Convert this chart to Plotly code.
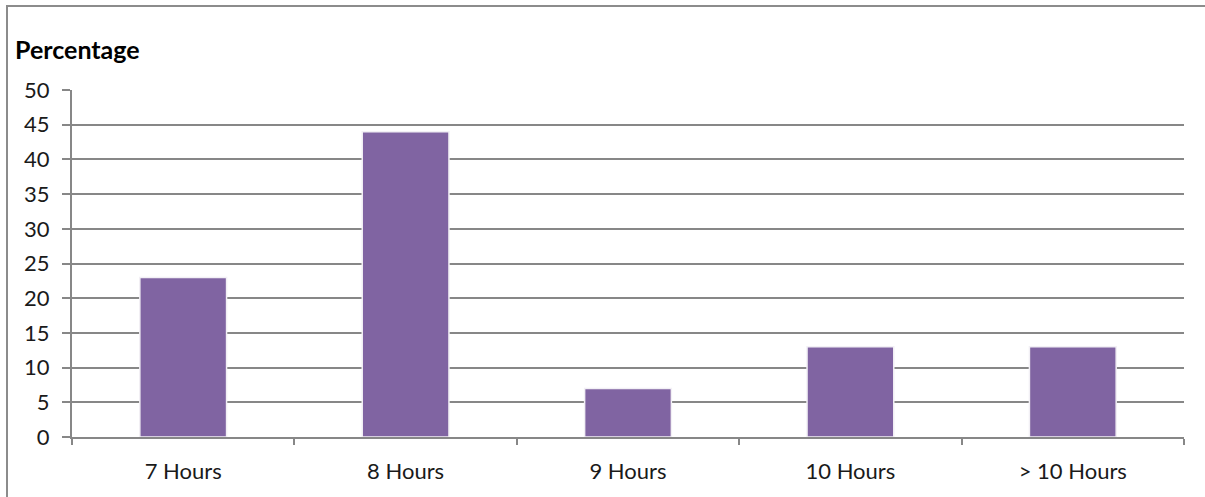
import plotly.graph_objects as go

categories = ["7 Hours", "8 Hours", "9 Hours", "10 Hours", "> 10 Hours"]
percentages = [23, 44, 7, 13, 13]
y_ticks = [0, 5, 10, 15, 20, 25, 30, 35, 40, 45, 50]

W, H = 1205, 497
L, R, T, B = 72, W - 1184, 90, H - 437
pw, ph = W - L - R, H - T - B

grid = "#878787"
font = "Lato"
txt = "#1a1a1a"

fig = go.Figure(go.Bar(
    x=categories, y=percentages,
    marker=dict(color="#8064A2", line=dict(color="#F2F0F5", width=1.5)),
    width=0.39,
))

fig.update_layout(
    width=W, height=H,
    margin=dict(l=L, r=R, t=T, b=B, pad=0),
    paper_bgcolor="white", plot_bgcolor="white",
    showlegend=False,
    font=dict(family=font, size=22, color=txt),
    title=dict(text="<b>Percentage</b>", xref="container", yref="container",
               x=15 / W, xanchor="left", y=1 - 50 / H, yanchor="middle",
               font=dict(family=font, size=25, color="#000000")),
    xaxis=dict(
        type="category", showgrid=False, showline=True, linecolor=grid, linewidth=2,
        ticks="outside", tickson="boundaries", ticklen=6, tickcolor=grid, tickwidth=1.5,
        ticklabelstandoff=14,
        tickfont=dict(family=font, size=22, color=txt),
        range=[-0.5, 4.5], fixedrange=True,
    ),
    yaxis=dict(
        range=[0, 50], tickvals=y_ticks, showgrid=True, gridcolor=grid, gridwidth=1.5,
        showline=True, linecolor=grid, linewidth=2, zeroline=False,
        ticks="outside", ticklen=8, tickcolor=grid, tickwidth=1.5,
        ticklabelstandoff=8,
        tickfont=dict(family=font, size=22, color=txt),
    ),
    shapes=[dict(
        type="rect", xref="paper", yref="paper", layer="below",
        x0=(7 - L) / pw, x1=(W + 10 - L) / pw,
        y0=-(B + 10) / ph, y1=(H - B - 6) / ph,
        line=dict(color="#8C8C8C", width=2), fillcolor="rgba(0,0,0,0)",
    )],
)

fig.write_html("out.html")
